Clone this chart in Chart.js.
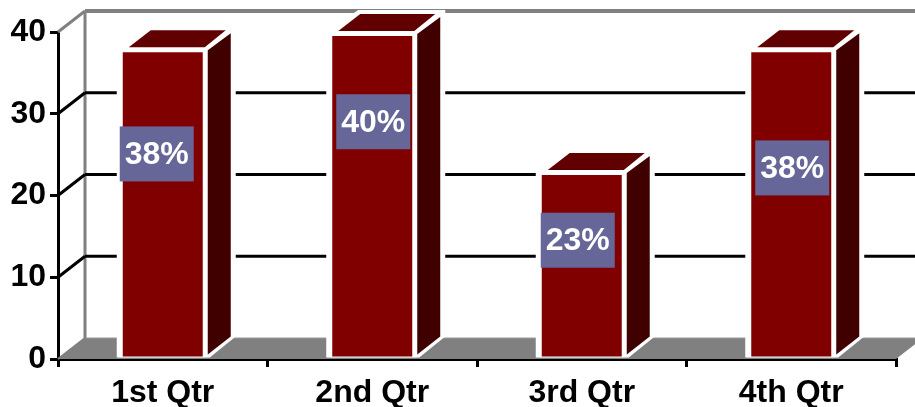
<!DOCTYPE html>
<html>
<head>
<meta charset="utf-8">
<title>Quarterly chart</title>
<script src="https://cdn.jsdelivr.net/npm/chart.js@4/dist/chart.umd.min.js"></script>
<style>
    html, body { margin: 0; padding: 0; background: #fff; overflow: hidden; }
    #box { width: 915px; height: 407px; }
</style>
</head>
<body>
<div id="box"><canvas id="myChart"></canvas></div>
<script>
// Data
const categories = ['1st Qtr', '2nd Qtr', '3rd Qtr', '4th Qtr'];
const values = [38, 40, 23, 38];
const percentLabels = ['38%', '40%', '23%', '38%'];
const yTicks = [0, 10, 20, 30, 40];

// Hand placed label boxes, nudged from the middle of each bar
const labelShiftX = [-6, 1, -4, 1];
const labelShiftY = [-49, -73, -24, -35];

// Oblique depth of the fake 3D
const wallDX = 27;
const wallDY = 21;
const barDX = 23;
const barDY = 17;
const FONT_FAMILY = '"Liberation Sans", Arial, sans-serif';

function poly(ctx, pts, fill) {
    ctx.beginPath();
    pts.forEach((p, i) => i ? ctx.lineTo(p[0], p[1]) : ctx.moveTo(p[0], p[1]));
    ctx.closePath();
    ctx.fillStyle = fill;
    ctx.fill();
}

function line(ctx, x1, y1, x2, y2, color, width) {
    ctx.beginPath();
    ctx.moveTo(x1, y1);
    ctx.lineTo(x2, y2);
    ctx.strokeStyle = color;
    ctx.lineWidth = width;
    ctx.stroke();
}

const wallsAndDepth = {
    id: 'wallsAndDepth',
    beforeDatasetsDraw(chart) {
        const ctx = chart.ctx;
        const { left, right } = chart.chartArea;
        const y = chart.scales.y;
        const base = y.getPixelForValue(0);
        const top = y.getPixelForValue(40);
        ctx.save();

        // Floor
        poly(ctx, [[left, base], [left + wallDX, base - wallDY], [right + wallDX, base - wallDY], [right, base]], '#808080');
        line(ctx, left + wallDX, base - wallDY, right + wallDX, base - wallDY, '#999999', 1);

        // Back wall edges
        line(ctx, left, top, left + wallDX, top - wallDY, '#808080', 3);
        line(ctx, left + wallDX, top - wallDY, right + wallDX, top - wallDY, '#808080', 4);
        line(ctx, left + wallDX, top - wallDY, left + wallDX, base - wallDY, '#808080', 3);
        line(ctx, left, base, left + wallDX, base - wallDY, '#808080', 2);

        // Gridlines on the wall
        yTicks.slice(1, -1).forEach(v => {
            const py = y.getPixelForValue(v);
            line(ctx, left, py, left + wallDX, py - wallDY, '#000', 3);
            line(ctx, left + wallDX, py - wallDY, right + wallDX, py - wallDY, '#000', 3);
        });

        // White halo, then top and side of each bar
        chart.getDatasetMeta(0).data.forEach(bar => {
            const l = bar.x - bar.width / 2;
            const r = bar.x + bar.width / 2;
            const t = bar.y;
            const b = bar.base;
            poly(ctx, [[l - 2, b], [l - 2, t], [l + barDX + 7, t - barDY - 5], [r + barDX + 6, t - barDY - 5], [r + barDX + 6, b - barDY - 4], [r + 3, b]], '#fff');
            poly(ctx, [[l + 10, t - 1], [l + barDX + 9, t - barDY - 1], [r + barDX - 4, t - barDY - 1], [r - 2, t - 1]], '#600000');
            poly(ctx, [[r + 1, t + 2], [r + barDX + 1, t - barDY + 2], [r + barDX + 1, b - barDY - 4], [r + 1, b - 3]], '#400000');
        });
        ctx.restore();
    },
    afterDatasetsDraw(chart) {
        const ctx = chart.ctx;
        ctx.save();
        ctx.font = 'bold 32px ' + FONT_FAMILY;
        ctx.textAlign = 'center';
        ctx.textBaseline = 'middle';
        chart.getDatasetMeta(0).data.forEach((bar, i) => {
            const cx = bar.x + labelShiftX[i];
            const cy = (bar.y + bar.base) / 2 + labelShiftY[i];
            ctx.fillStyle = '#666699';
            ctx.fillRect(cx - 37, cy - 27.5, 74, 55);
            ctx.fillStyle = '#fff';
            ctx.fillText(percentLabels[i], cx, cy + 1);
        });
        ctx.restore();
    }
};

const chartCtx = document.getElementById('myChart').getContext('2d');
new Chart(chartCtx, {
    type: 'bar',
    data: {
        labels: categories,
        datasets: [{
            data: values,
            backgroundColor: '#800000',
            borderColor: '#fff',
            borderWidth: { left: 4, right: 4, top: 4, bottom: 1 },
            borderSkipped: false,
            barPercentage: 0.42,
            categoryPercentage: 1
        }]
    },
    options: {
        responsive: true,
        maintainAspectRatio: false,
        animation: false,
        layout: { padding: { top: 32, right: 19, bottom: 0, left: 0 } },
        plugins: { legend: { display: false }, tooltip: { enabled: false } },
        scales: {
            x: {
                afterFit(scale) { scale.height = 48; },
                grid: { drawOnChartArea: false, color: '#000', tickColor: '#000', tickLength: 8, lineWidth: 3 },
                border: { color: '#000', width: 3 },
                ticks: { color: '#000', font: { family: FONT_FAMILY, size: 32, weight: 'bold' }, padding: 7, maxRotation: 0 }
            },
            y: {
                min: 0,
                max: 40,
                afterFit(scale) { scale.width = 58; },
                grid: { drawOnChartArea: false, color: '#000', tickColor: '#000', tickLength: 8, lineWidth: 3 },
                border: { color: '#000', width: 3 },
                ticks: { stepSize: 10, color: '#000', font: { family: FONT_FAMILY, size: 32, weight: 'bold' }, padding: 4 }
            }
        }
    },
    plugins: [wallsAndDepth]
});
</script>
</body>
</html>
